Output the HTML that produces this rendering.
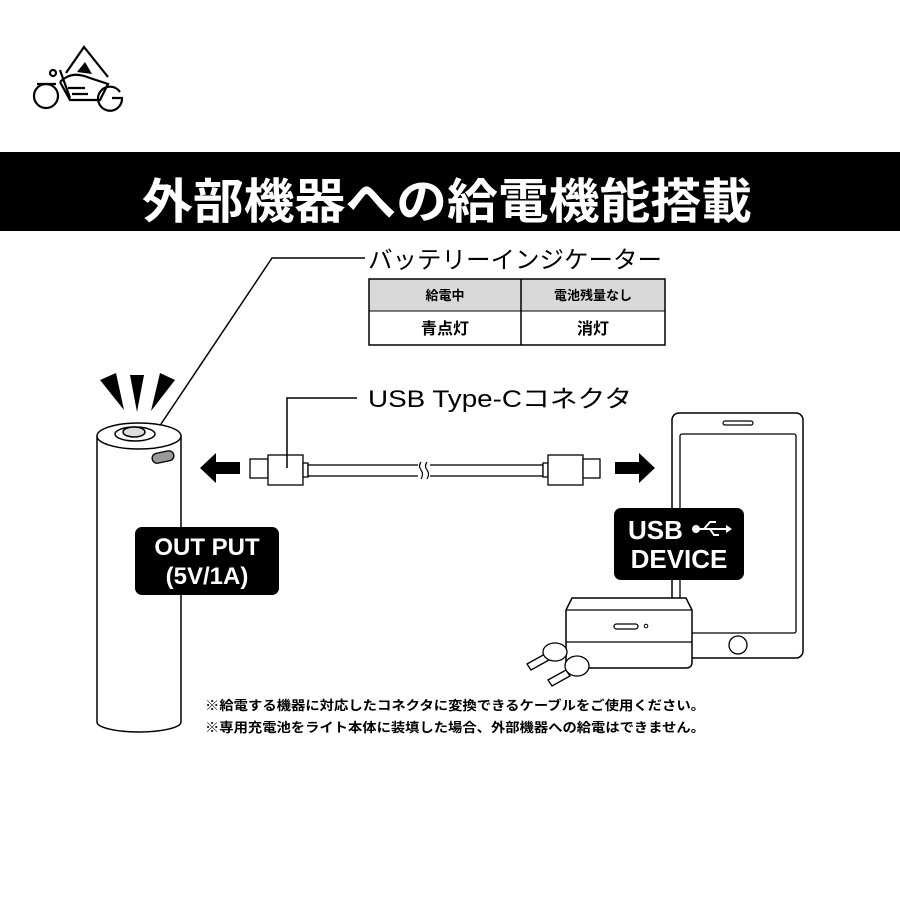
<!DOCTYPE html>
<html><head><meta charset="utf-8"><style>
body{margin:0;background:#fff;width:900px;height:900px;overflow:hidden;font-family:"Liberation Sans","Noto Sans CJK JP",sans-serif}
</style></head><body>
<svg width="900" height="900" viewBox="0 0 900 900" xmlns="http://www.w3.org/2000/svg" font-family="Liberation Sans, Noto Sans CJK JP, sans-serif">
<!-- logo -->
<g fill="none" stroke="#000" stroke-width="2.2">
<circle cx="46" cy="96" r="12"/>
<path d="M120 92 A12 12 0 1 0 122 98 L112 98"/>
<path d="M66 73 L84 47 L108 77"/>
<path d="M37 84 L56 84 M60 82 L70 100 L100 100 L108 84 L90 78 C80 74 70 72 60 82"/>
<path d="M68 88 L85 88 M72 94 L88 94 M60 70 L70 98"/>
<circle cx="53" cy="73" r="3"/>
</g>
<polygon points="77,72 85,62 92,74" fill="#000"/>
<!-- banner -->
<rect x="0" y="152" width="900" height="79" fill="#000"/>
<text x="142" y="218" fill="#fff" font-size="48" font-weight="bold" textLength="610" lengthAdjust="spacingAndGlyphs">外部機器への給電機能搭載</text>
<!-- indicator label -->
<polyline points="365,258 272,258 155,433" fill="none" stroke="#000" stroke-width="1.5"/>
<text x="368" y="268" font-size="24" textLength="294" lengthAdjust="spacingAndGlyphs">バッテリーインジケーター</text>
<rect x="369" y="279" width="296" height="32" fill="#d9d9d9"/>
<rect x="369" y="279" width="296" height="66" fill="none" stroke="#000" stroke-width="1.5"/>
<line x1="369" y1="311" x2="665" y2="311" stroke="#000" stroke-width="1"/>
<line x1="521" y1="279" x2="521" y2="345" stroke="#000" stroke-width="1.5"/>
<text x="445" y="300" text-anchor="middle" font-size="13" font-weight="bold">給電中</text>
<text x="593" y="300" text-anchor="middle" font-size="13" font-weight="bold">電池残量なし</text>
<text x="445" y="334" text-anchor="middle" font-size="16" font-weight="bold">青点灯</text>
<text x="593" y="334" text-anchor="middle" font-size="16" font-weight="bold">消灯</text>
<!-- usb label -->
<polyline points="357,398 287,398 287,468" fill="none" stroke="#000" stroke-width="1.5"/>
<text x="368" y="407" font-size="24" textLength="264" lengthAdjust="spacingAndGlyphs">USB Type-Cコネクタ</text>
<!-- battery -->
<g fill="#fff" stroke="#000" stroke-width="1.5">
<path d="M97 436 L97 722 A42 10 0 0 0 181 722 L181 436"/>
<ellipse cx="139" cy="436" rx="42" ry="13"/>
<ellipse cx="135" cy="434" rx="20" ry="7"/>
<ellipse cx="134" cy="432" rx="11" ry="5" fill="#ddd"/>
</g>
<rect x="152" y="452" width="22" height="10" rx="5" transform="rotate(-12 163 457)" fill="#999" stroke="#000" stroke-width="1.3"/>
<polygon points="100,380 116,373 124,410" fill="#000"/>
<polygon points="130,375 144,375 137,412" fill="#000"/>
<polygon points="160,373 175,380 151,411" fill="#000"/>
<!-- arrows -->
<polygon points="200,468 216,453 216,462 240,462 240,474 216,474 216,483" fill="#000"/>
<polygon points="655,468 639,453 639,462 615,462 615,474 639,474 639,483" fill="#000"/>
<!-- cable -->
<g fill="#fff" stroke="#000" stroke-width="1.3">
<rect x="250" y="459" width="18" height="19"/>
<rect x="268" y="455" width="35" height="30"/>
<rect x="303" y="463" width="5" height="14"/>
<rect x="308" y="465" width="235" height="11"/>
<rect x="543" y="463" width="5" height="14"/>
<rect x="548" y="455" width="35" height="30"/>
<rect x="583" y="459" width="17" height="19"/>
</g>
<line x1="287" y1="455" x2="287" y2="468" stroke="#000" stroke-width="1.5"/>
<rect x="418" y="463" width="12" height="16" fill="#fff"/>
<path d="M421 462 q-3 4 0 8 q3 4 0 9 M427 462 q-3 4 0 8 q3 4 0 9" fill="none" stroke="#000" stroke-width="1.2"/>
<!-- phone -->
<rect x="672" y="413" width="131" height="245" rx="7" fill="#fff" stroke="#000" stroke-width="1.5"/>
<rect x="680" y="434" width="116" height="199" rx="2" fill="#fff" stroke="#000" stroke-width="1.3"/>
<rect x="723" y="421" width="30" height="4" rx="2" fill="#fff" stroke="#000" stroke-width="1.2"/>
<circle cx="738" cy="645" r="9" fill="#fff" stroke="#000" stroke-width="1.3"/>
<!-- earbud case -->
<path d="M566 610 L572 598 L686 598 L692 610 L692 662 Q692 668 686 668 L572 668 Q566 668 566 662 Z" fill="#fff" stroke="#000" stroke-width="1.5"/>
<line x1="566" y1="610" x2="692" y2="610" stroke="#000" stroke-width="1.2"/>
<line x1="566" y1="642" x2="692" y2="642" stroke="#000" stroke-width="1.2"/>
<rect x="614" y="624" width="24" height="5" rx="2.5" fill="#fff" stroke="#000" stroke-width="1.2"/>
<circle cx="646" cy="626" r="1.8" fill="#fff" stroke="#000"/>
<g fill="#fff" stroke="#000" stroke-width="1.3">
<path d="M527 664 L545 654 L549 660 L531 670 Z"/>
<ellipse cx="555" cy="652" rx="12" ry="9"/>
<path d="M548 680 L566 670 L570 676 L552 686 Z"/>
<ellipse cx="577" cy="666" rx="12" ry="10"/>
</g>
<!-- USB DEVICE -->
<rect x="614" y="508" width="130" height="72" rx="7" fill="#000"/>
<text x="628" y="539" fill="#fff" font-size="26" font-weight="bold">USB</text>
<g stroke="#fff" stroke-width="2" fill="none">
<circle cx="696" cy="529" r="3" fill="#fff"/>
<path d="M699 529 L726 529 M704 529 L710 522 L716 522 M710 529 L714 535 L719 535"/>
</g>
<polygon points="726,525 732,529 726,533" fill="#fff"/>
<text x="679" y="568" text-anchor="middle" fill="#fff" font-size="26" font-weight="bold">DEVICE</text>
<!-- OUT PUT -->
<rect x="135" y="527" width="144" height="68" rx="7" fill="#000"/>
<text x="207" y="555" text-anchor="middle" fill="#fff" font-size="24" font-weight="bold">OUT PUT</text>
<text x="207" y="584" text-anchor="middle" fill="#fff" font-size="24" font-weight="bold">(5V/1A)</text>
<!-- notes -->
<text x="205" y="710" font-size="13" font-weight="bold" textLength="500" lengthAdjust="spacingAndGlyphs">※給電する機器に対応したコネクタに変換できるケーブルをご使用ください。</text>
<text x="205" y="732" font-size="13" font-weight="bold" textLength="500" lengthAdjust="spacingAndGlyphs">※専用充電池をライト本体に装填した場合、外部機器への給電はできません。</text>
</svg>
</body></html>
